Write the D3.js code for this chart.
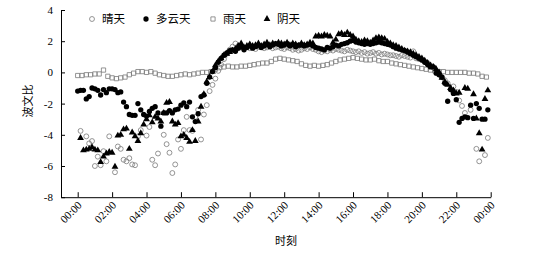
<!DOCTYPE html>
<html>
<head>
<meta charset="utf-8">
<script src="https://cdn.jsdelivr.net/npm/d3@7"></script>
<style>
  body { margin: 0; background: #fff; }
  text { fill: #000; }
</style>
</head>
<body>
<div id="chart"></div>
<script>
// Bowen ratio over the day for four weather types

var seriesNames = ["晴天", "多云天", "雨天", "阴天"];
var xTickValues = [0, 2, 4, 6, 8, 10, 12, 14, 16, 18, 20, 22, 24];
var xTickLabels = ["00:00", "02:00", "04:00", "06:00", "08:00", "10:00", "12:00",
                   "14:00", "16:00", "18:00", "20:00", "22:00", "00:00"];
var yTickValues = [-8, -6, -4, -2, 0, 2, 4];

// 10 minute steps, index / 6 = hour; null = no value
var sunny = [
  null, -3.75, null, -4.1, -4.55, -4.4, -6.0, -5.4, -5.95, -5.05, -5.7, -4.1,
  null, -6.4, -4.75, -4.9, -5.6, -5.7, -5.5, -5.9, -5.95, -4.1, -3.7, null,
  -4.05, -3.5, -5.6, -5.95, -5.2, null, -4.0, -4.6, -5.15, -6.45, -5.9, -4.3,
  -4.9, -3.7, -2.85, -3.7, -3.75, -2.85, -2.4, -4.3, -2.7, -2.1, -1.2, -0.8,
  -0.4, 0.1, 0.5, 0.85, 1.2, 1.45, 1.65, 1.85, 1.7, 1.6, 1.55, 1.6,
  1.55, 1.6, 1.5, 1.65, 1.6, 1.55, 1.6, 1.65, 1.55, 1.6, 1.65, 1.55,
  1.5, 1.6, 1.55, 1.45, 1.5, 1.4, 1.45, 1.55, 1.5, 1.6, 1.5, 1.45,
  1.35, 1.3, 1.4, 1.35, 1.45, 1.4, 1.5, 1.45, 1.4, 1.35, 1.45, 1.4,
  1.35, 1.3, 1.35, 1.25, 1.3, 1.2, 1.25, 1.3, 1.2, 1.25, 1.15, 1.2,
  1.15, 1.1, 1.1, 1.05, 1.0, 1.1, 1.05, 1.0, 0.95, 1.35, 0.9, 0.85,
  0.8, 0.7, 0.6, 0.45, 0.3, 0.1, -0.1, -0.3, -0.5, -0.7, null, -0.9,
  -1.25, -1.8, -2.15, -2.6, null, -2.4, null, -4.9, -5.7, null, -5.3, -4.2
];
var cloudy = [
  -1.2, -1.15, -1.15, -1.7, -1.55, -1.0, -1.05, -1.15, -1.45, -1.1, -1.3, -1.05,
  -1.05, -1.1, -1.3, -1.25, -1.9, -2.2, -2.7, -2.75, -2.75, -2.0, -2.4, -2.7,
  -2.8, -2.5, -2.3, -2.2, -2.6, -3.45, -2.6, -2.6, -2.45, -2.6, -2.4, -2.35,
  -2.1, -1.95, -2.2, -1.9, -2.85, -3.15, -2.65, -1.55, -1.45, -0.7, -0.3, 0.05,
  0.3, 0.65, 0.9, 1.1, 1.25, 1.4, 1.45, 1.35, 1.55, 1.65, 1.45, 1.6,
  1.7, 1.55, 1.65, 1.75, 1.6, 1.7, 1.8, 1.65, 1.75, 1.85, 1.8, 1.7,
  1.75, 1.85, 1.7, 1.8, 1.65, 1.75, 1.8, 1.7, 1.75, 1.8, 1.7, 1.6,
  1.55, 1.5, 1.45, 1.6, 1.55, 1.65, 1.75, 1.7, 1.8, 1.85, 1.9, 2.0,
  2.05, 1.95, 1.9, 1.85, 1.8, 1.85, 1.8, 1.85, 1.9, 1.95, 1.9, 1.85,
  1.8, 1.75, 1.65, 1.55, 1.5, 1.45, 1.4, 1.3, 1.2, 1.1, 1.0, 0.9,
  0.8, 0.65, 0.5, 0.35, 0.35, -0.05, -0.15, -0.3, -0.7, -1.85, -1.1, -1.35,
  -1.75, -3.2, -2.95, -2.85, -2.9, -2.1, -2.95, -2.0, -2.3, -3.0, -3.0, -2.4
];
var overcast = [
  null, -4.2, -5.0, -4.95, -4.9, -4.8, -4.95, -5.0, -5.75, -5.4, -5.2, -5.1,
  -5.15, -6.05, -4.05, -4.0, -3.65, -3.6, -4.9, -3.85, -4.1, -4.4, -3.9, -3.35,
  -3.0, -2.75, -3.2, -2.85, -2.95, -3.15, -2.6, -1.95, -1.9, -3.15, -3.35, -3.25,
  -4.1, -4.0, -4.2, -4.45, -3.7, -4.4, -3.15, -2.2, -1.4, -0.6, -0.3, 0.05,
  0.45, 0.7, 0.9, 1.1, 1.2, 1.3, 1.4, 1.5, 1.7, 1.85, 1.6, 1.7,
  1.8, 1.7, 1.75, 1.85, 1.7, 1.8, 1.9, 1.75, 1.85, 1.8, 1.9, 1.85,
  1.8, 1.9, 1.75, 1.85, 1.8, 1.7, 1.85, 1.75, 1.8, 1.9, 1.85, 2.3,
  2.35, 2.3, 2.4, 2.35, 2.3, 1.9, 2.1, 2.45, 2.5, 2.4, 2.55, 2.4,
  2.3, 2.1, 2.0, 1.95, 2.05, 2.0, 1.9, 2.05, 2.2, 2.25, 2.2, 2.15,
  1.95, 1.85, 1.75, 1.7, 1.6, 1.5, 1.4, 1.35, 1.3, 1.2, 1.1, 1.0,
  0.9, 0.75, 0.6, 0.45, 0.35, 0.2, 0.0, -0.35, -0.6, -0.8, -1.0, -1.15,
  -1.35, -1.3, null, -1.0, -1.05, null, -1.4, -2.95, -3.9, -4.95, -1.7, -1.15
];
// 15 minute steps, index / 4 = hour
var rainy = [
  -0.2, -0.2, -0.15, -0.15, -0.1, -0.1, 0.15, -0.25, -0.35, -0.4, -0.35, -0.3,
  -0.15, -0.05, 0.05, 0.05, 0.0, 0.05, -0.05, -0.15, -0.2, -0.25, -0.25, -0.2,
  -0.15, -0.1, -0.15, -0.1, -0.05, 0.0, 0.0, 0.05, 0.2, 0.3, 0.35, 0.4,
  0.35, 0.35, 0.4, 0.4, 0.45, 0.5, 0.55, 0.6, 0.6, 0.7, 0.85, 0.9,
  0.85, 0.8, 0.75, 0.7, 0.55, 0.45, 0.4, 0.45, 0.4, 0.45, 0.5, 0.6,
  0.7, 0.8, 0.85, 0.9, 0.95, 0.9, 0.85, 0.8, 0.8, 0.85, 0.75, 0.7,
  0.7, 0.6, 0.55, 0.5, 0.45, 0.4, 0.35, 0.3, 0.25, 0.2, 0.15, 0.1,
  0.05, 0.05, 0.0, 0.0, 0.0, 0.0, 0.0, -0.05, -0.05, -0.1, -0.25, -0.3
];

var width = 533, height = 253;
var serif = "'Liberation Serif', 'Times New Roman', serif";
var cjk = "'Noto Sans CJK SC', sans-serif";

var x = d3.scaleLinear().domain([-0.97, 24]).range([61, 490.7]);
var y = d3.scaleLinear().domain([-8, 4]).range([197.2, 10]);

var svg = d3.select("#chart")
    .append("svg")
    .attr("width", width)
    .attr("height", height)
    .style("display", "block");

function toPoints(values, stepsPerHour) {
  var pts = [];
  values.forEach(function(v, i) {
    if (v !== null) pts.push({t: i / stepsPerHour, v: v});
  });
  return pts;
}

var series = [
  {name: seriesNames[0], pts: toPoints(sunny, 6),    type: d3.symbolCircle,   size: 19, fill: "none", stroke: "#7a7a7a", sw: 0.8},
  {name: seriesNames[2], pts: toPoints(rainy, 4),    type: d3.symbolSquare,   size: 18, fill: "none", stroke: "#7a7a7a", sw: 0.8},
  {name: seriesNames[1], pts: toPoints(cloudy, 6),   type: d3.symbolCircle,   size: 22, fill: "#000", stroke: "none", sw: 0},
  {name: seriesNames[3], pts: toPoints(overcast, 6), type: d3.symbolTriangle, size: 20, fill: "#000", stroke: "none", sw: 0}
];

series.forEach(function(s) {
  svg.append("g")
    .selectAll("path")
    .data(s.pts)
    .enter().append("path")
      .attr("transform", function(d) { return "translate(" + x(d.t) + "," + y(d.v) + ")"; })
      .attr("d", d3.symbol().type(s.type).size(s.size))
      .attr("fill", s.fill)
      .attr("stroke", s.stroke)
      .attr("stroke-width", s.sw);
});

// y axis, ticks pointing inward
var yAxis = svg.append("g")
    .attr("transform", "translate(" + x.range()[0] + ",0)")
    .call(d3.axisLeft(y).tickValues(yTickValues).tickSizeInner(-4).tickSizeOuter(0)
      .tickPadding(8).tickFormat(function(d) { return String(d); }));
yAxis.selectAll("text").style("font-family", serif).style("font-size", "11px");

// x axis with rotated labels
var xAxis = svg.append("g")
    .attr("transform", "translate(0," + y.range()[0] + ")")
    .call(d3.axisBottom(x).tickValues(xTickValues).tickSizeInner(-5).tickSizeOuter(0)
      .tickFormat(""));
svg.selectAll(".domain, .tick line").attr("stroke", "#000");

svg.append("g")
  .selectAll("text")
  .data(xTickValues)
  .enter().append("text")
    .attr("transform", function(d) { return "translate(" + (x(d) + 2) + "," + (y.range()[0] + 6) + ")rotate(-45)"; })
    .attr("text-anchor", "end")
    .attr("dy", "0.35em")
    .style("font-family", serif)
    .style("font-size", "11px")
    .text(function(d, i) { return xTickLabels[i]; });

svg.append("text")
    .attr("transform", "translate(28,101)rotate(-90)")
    .attr("text-anchor", "middle")
    .attr("dy", "0.35em")
    .style("font-family", cjk)
    .style("font-size", "11px")
    .text("波文比");

svg.append("text")
    .attr("x", 286)
    .attr("y", 241)
    .attr("text-anchor", "middle")
    .attr("dy", "0.35em")
    .style("font-family", cjk)
    .style("font-size", "11px")
    .text("时刻");

// legend
var legendItems = [
  {name: seriesNames[0], x: 92,  type: d3.symbolCircle,   size: 19, fill: "none", stroke: "#7a7a7a"},
  {name: seriesNames[1], x: 146, type: d3.symbolCircle,   size: 22, fill: "#000", stroke: "none"},
  {name: seriesNames[2], x: 213, type: d3.symbolSquare,   size: 18, fill: "none", stroke: "#7a7a7a"},
  {name: seriesNames[3], x: 267, type: d3.symbolTriangle, size: 20, fill: "#000", stroke: "none"}
];
var legend = svg.append("g").attr("transform", "translate(0,19)");
var item = legend.selectAll("g")
    .data(legendItems)
  .enter().append("g")
    .attr("transform", function(d) { return "translate(" + d.x + ",0)"; });
item.append("path")
    .attr("d", function(d) { return d3.symbol().type(d.type).size(d.size)(); })
    .attr("fill", function(d) { return d.fill; })
    .attr("stroke", function(d) { return d.stroke; })
    .attr("stroke-width", 0.8);
item.append("text")
    .attr("x", 10)
    .attr("dy", "0.35em")
    .style("font-family", cjk)
    .style("font-size", "11.5px")
    .text(function(d) { return d.name; });
</script>
</body>
</html>
